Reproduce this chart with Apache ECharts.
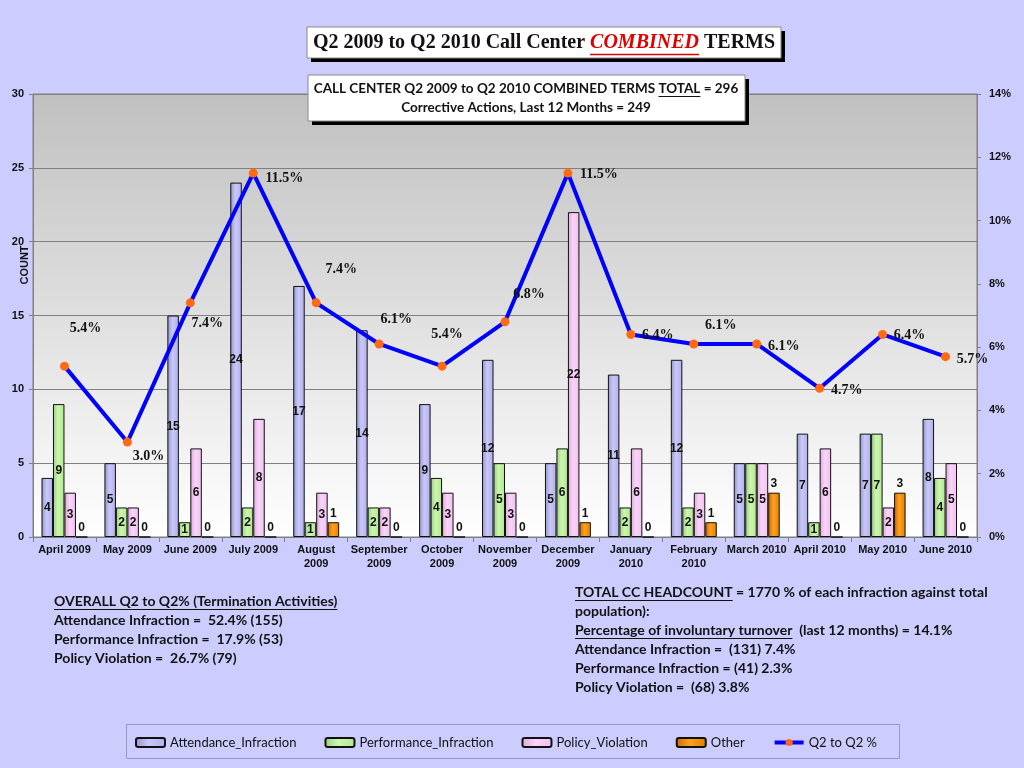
<!DOCTYPE html>
<html><head><meta charset="utf-8">
<script src="https://cdn.jsdelivr.net/npm/echarts@6/dist/echarts.min.js"></script>
<style>html,body{margin:0;padding:0;background:#ccccff;} #c{width:1024px;height:768px;}</style>
</head><body><div id="c"></div>
<script>
const categories = ['April 2009','May 2009','June 2009','July 2009','August\n2009','September\n2009','October\n2009','November\n2009','December\n2009','January\n2010','February\n2010','March 2010','April 2010','May 2010','June 2010'];
const attendance = [4,5,15,24,17,14,9,12,5,11,12,5,7,7,8];
const performance = [9,2,1,2,1,2,4,5,6,2,2,5,1,7,4];
const policy = [3,2,6,8,3,2,3,3,22,6,3,5,6,2,5];
const other = [0,0,0,0,1,0,0,0,1,0,1,3,0,3,0];
const q2pct = [5.4,3.0,7.4,11.5,7.4,6.1,5.4,6.8,11.5,6.4,6.1,6.1,4.7,6.4,5.7];
const seriesNames = ['Attendance_Infraction','Performance_Infraction','Policy_Violation','Other','Q2 to Q2 %'];

// label placement (style), not data
const labelOffsets = [[21,-38],[21,14],[17,21],[31,5],[25,-33],[17,-25],[5,-32],[24,-27],[31,1],[27,1],[27,-19],[27,2],[27,2],[27,1],[27,3]];

const cv = document.createElement('canvas').getContext('2d');
function tw(t, font){ cv.font = font; return cv.measureText(t).width; }
const G = [];
function run(x, y, parts, align){
  let total = 0;
  parts.forEach(p => { p.w = tw(p.t, p.font); total += p.w; });
  let cx = align === 'center' ? x - total/2 : x;
  parts.forEach(p => {
    G.push({type:'text', x: cx, y: y, z: 100, style:{text:p.t, font:p.font, fill:p.fill||'#111', align:'left', verticalAlign:'middle', textAlign:'left', textVerticalAlign:'middle'}});
    if (p.u) {
      const fs = parseFloat(p.font.match(/(\d+(\.\d+)?)px/)[1]);
      const uy = Math.round(y + fs*0.55) + 0.5;
      G.push({type:'line', z:100, shape:{x1:cx, y1:uy, x2:cx+p.w, y2:uy}, style:{stroke:p.fill||'#111', lineWidth: p.uw||1}});
    }
    cx += p.w;
  });
}
function box(x,y,w,h){
  G.push({type:'rect', z:90, shape:{x:x+4,y:y+4,width:w,height:h}, style:{fill:'#000'}});
  G.push({type:'rect', z:91, shape:{x:x,y:y,width:w,height:h}, style:{fill:'#fff', stroke:'#8a8a8a', lineWidth:1}});
}
// title
box(307,27,474,31);
const TF = 'bold 20px "Liberation Serif"';
run(544, 43, [
  {t:'Q2 2009 to Q2 2010 Call Center ', font:TF},
  {t:'COMBINED', font:'italic bold 20px "Liberation Serif"', fill:'#e00000', u:true, uw:1.5},
  {t:' TERMS', font:TF}
], 'center');
// subtitle
box(308,75,437,46);
const SF = 'bold 13.5px Lato';
run(526, 89, [
  {t:'CALL CENTER Q2 2009 to Q2 2010 COMBINED TERMS ', font:SF},
  {t:'TOTAL', font:SF, u:true},
  {t:' = 296', font:SF}
], 'center');
run(526, 108, [{t:'Corrective Actions, Last 12 Months = 249', font:SF}], 'center');
// bottom left block
const BF = 'bold 14px Lato';
run(54, 601, [{t:'OVERALL Q2 to Q2% (Termination Activities)', font:BF, u:true}]);
run(54, 620, [{t:'Attendance Infraction =  52.4% (155)', font:BF}]);
run(54, 639, [{t:'Performance Infraction =  17.9% (53)', font:BF}]);
run(54, 658, [{t:'Policy Violation =  26.7% (79)', font:BF}]);
// bottom right block
run(575, 592, [{t:'TOTAL CC HEADCOUNT', font:BF, u:true},{t:' = 1770 % of each infraction against total', font:BF}]);
run(575, 611, [{t:'population):', font:BF}]);
run(575, 630, [{t:'Percentage of involuntary turnover', font:BF, u:true},{t:'  (last 12 months) = 14.1%', font:BF}]);
run(575, 649, [{t:'Attendance Infraction =  (131) 7.4%', font:BF}]);
run(575, 668, [{t:'Performance Infraction = (41) 2.3%', font:BF}]);
run(575, 687, [{t:'Policy Violation =  (68) 3.8%', font:BF}]);
// legend frame
G.push({type:'rect', z:1, shape:{x:126.5,y:724.5,width:773,height:34}, style:{fill:'rgba(0,0,0,0)', stroke:'#9a9ab8', lineWidth:1}});
// axis name
G.push({type:'text', x:25, y:265, rotation:Math.PI/2, z:100, style:{text:'COUNT', font:'bold 11px "Liberation Sans"', fill:'#111', align:'center', verticalAlign:'middle', textAlign:'center', textVerticalAlign:'middle'}});

function grad(a,b,c){ return new echarts.graphic.LinearGradient(0,0,1,0,[{offset:0,color:a},{offset:0.45,color:b},{offset:1,color:c}]); }
const barLabel = {show:true, position:'inside', fontFamily:'Liberation Sans', fontWeight:'bold', fontSize:12, color:'#111'};
function barSeries(name, data, fill, pos){
  return {name, type:'bar', data, barGap:'0%', barCategoryGap:'27%', z:2,
    itemStyle:{color:fill, borderColor:'#111', borderWidth:1},
    label:Object.assign({}, barLabel, pos ? {position:pos, distance:3} : {})};
}
const chart = echarts.init(document.getElementById('c'));
chart.setOption({
  backgroundColor:'#ccccff',
  animation:false,
  grid:{left:33, right:47, top:94, bottom:231, show:true, borderColor:'#808080', borderWidth:1,
    backgroundColor:new echarts.graphic.LinearGradient(0,0,0,1,[{offset:0,color:'#c0c0c0'},{offset:1,color:'#ffffff'}])},
  legend:{left:130, top:731, itemGap:28, itemWidth:29, itemHeight:9,
    data:seriesNames.map((n,i)=> i===4 ? {name:n, lineStyle:{width:4}} : n),
    textStyle:{fontFamily:'Lato', fontSize:13, color:'#111'}},
  xAxis:{type:'category', data:categories, boundaryGap:true,
    axisLine:{lineStyle:{color:'#808080'}}, axisTick:{show:true, length:5, lineStyle:{color:'#808080'}},
    axisLabel:{interval:0, margin:6, fontFamily:'Liberation Sans', fontWeight:'bold', fontSize:11, color:'#111', lineHeight:14}},
  yAxis:[
    {type:'value', min:0, max:30, interval:5,
      axisLine:{show:true, lineStyle:{color:'#808080'}}, axisTick:{show:true, length:4, lineStyle:{color:'#808080'}},
      splitLine:{lineStyle:{color:'#808080'}},
      axisLabel:{margin:9, fontFamily:'Liberation Sans', fontWeight:'bold', fontSize:11, color:'#111'}},
    {type:'value', min:0, max:14, interval:2, position:'right',
      axisLine:{show:true, lineStyle:{color:'#808080'}}, axisTick:{show:true, length:4, lineStyle:{color:'#808080'}},
      splitLine:{show:false},
      axisLabel:{margin:12, formatter:'{value}%', fontFamily:'Liberation Sans', fontWeight:'bold', fontSize:11, color:'#111'}}
  ],
  graphic:G,
  series:[
    barSeries(seriesNames[0], attendance, grad('#9494cc','#c8c8f8','#b0b0ec')),
    barSeries(seriesNames[1], performance, grad('#98d080','#ccf6ae','#b0e890')),
    barSeries(seriesNames[2], policy, grad('#dcaadc','#fad4f8','#f0c0f0')),
    barSeries(seriesNames[3], other, grad('#c86c00','#ffa020','#e08000'), 'top'),
    {name:seriesNames[4], type:'line', yAxisIndex:1, z:5,
      data:q2pct.map((v,i)=>({value:v, label:{offset:labelOffsets[i]}})),
      lineStyle:{color:'#0000ff', width:4}, itemStyle:{color:'#ff6a13'},
      symbol:'circle', symbolSize:9,
      label:{show:true, position:'inside', formatter:p=>p.value.toFixed(1)+'%',
        fontFamily:'Liberation Serif', fontWeight:'bold', fontSize:14, color:'#111'}}
  ]
});
</script></body></html>
